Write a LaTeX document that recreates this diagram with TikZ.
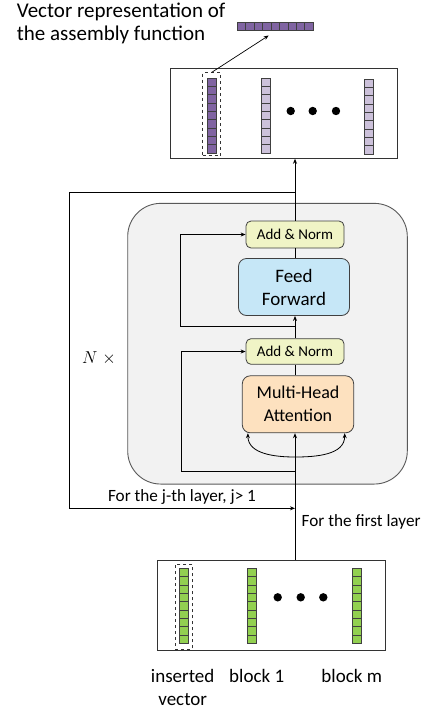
\documentclass[tikz,border=0pt]{standalone}
\usepackage{fontspec}
\setmainfont{Carlito}
\usetikzlibrary{arrows.meta}

\definecolor{darkpurple}{HTML}{8064A2}
\definecolor{lightpurple}{HTML}{CCC1DA}
\definecolor{cellgreen}{HTML}{92D050}
\definecolor{normfill}{HTML}{F0F4C6}
\definecolor{fffill}{HTML}{C6E7F7}
\definecolor{mhafill}{HTML}{FDE1BF}
\definecolor{layerfill}{HTML}{F2F2F2}
\definecolor{edge}{HTML}{404040}

\tikzset{
  arr/.style={-{Stealth[length=5pt,width=4pt]}},
  cell/.style={draw=edge,line width=0.7pt},
  frame/.style={draw=black!80,line width=0.9pt,inner sep=0pt},
  subbox/.style={draw=edge,line width=0.8pt,rounded corners=5pt,align=center,inner sep=0pt},
  addnorm/.style={subbox,fill=normfill,minimum width=98pt,minimum height=27pt,font=\fontsize{15}{18}\selectfont},
  bigbox/.style={subbox,minimum width=111pt,minimum height=57pt,rounded corners=8pt,font=\fontsize{19}{23}\selectfont},
  selbox/.style={draw=black!80,dashed,line width=0.7pt,inner sep=0pt},
  lbl/.style={font=\fontsize{19}{23}\selectfont,inner sep=0pt},
  small/.style={font=\fontsize{17.2}{20}\selectfont,inner sep=0pt}
}

% one vertical vector of 9 cells: x left, y top, colour
\newcommand{\vcol}[3]{%
  \foreach \k in {0,...,8}
    \draw[cell,fill=#3] (#1,{#2+\k*8.33}) rectangle ++(8.6,8.33);
}
% one horizontal vector of 9 cells
\newcommand{\vrow}[3]{%
  \foreach \k in {0,...,8}
    \draw[cell,fill=#3] ({#1+\k*8.44},#2) rectangle ++(8.44,8.7);
}

\begin{document}
\begin{tikzpicture}[x=1pt,y=-1pt]
  \useasboundingbox (0,0) rectangle (424,713);

  % title and output vector
  \node[lbl,font=\fontsize{21}{23}\selectfont,anchor=west,align=left] (title) at (16.7,23.5) {Vector representation of\\the assembly function};
  \node[inner sep=0pt,minimum width=76pt,minimum height=8.7pt] (hvec) at (275.3,26.35) {};
  \vrow{237.3}{22}{darkpurple}

  % output box
  \node[frame,minimum width=226.6pt,minimum height=90pt] (outbox) at (284,113.3) {};
  \node[selbox,minimum width=18pt,minimum height=83pt] (sel) at (211.7,114.2) {};
  \vcol{207.3}{78}{darkpurple}
  \vcol{261.3}{78}{lightpurple}
  \vcol{364.7}{79}{lightpurple}
  \foreach \x in {290.7,312.7,336} \fill (\x,111) circle (4.2);
  \draw[arr,line width=0.7pt] (sel.north) -- ([xshift=-6.6pt,yshift=-4.6pt]hvec.south);

  % encoder layer
  \node[draw=black!65,fill=layerfill,line width=0.9pt,rounded corners=33pt,
        minimum width=279.6pt,minimum height=280.7pt] (layer) at (267.5,343.7) {};
  \node[addnorm] (addtop) at (295,234.5) {Add \& Norm};
  \node[bigbox,fill=fffill] (ff) at (294,287) {Feed\\Forward};
  \node[addnorm,minimum height=25.6pt] (addbot) at (295,351.5) {Add \& Norm};
  \node[bigbox,fill=mhafill,minimum width=111.4pt,font=\fontsize{18}{23}\selectfont] (mha) at (298,404.3) {Multi-Head\\Attention};

  % input box
  \node[frame,minimum width=227.3pt,minimum height=89.3pt] (inbox) at (271.3,605.3) {};
  \node[selbox,minimum width=17.3pt,minimum height=84.7pt] (ins) at (183.65,606.65) {};
  \vcol{179.3}{568.3}{cellgreen}
  \vcol{247.3}{568.3}{cellgreen}
  \vcol{352.7}{568.3}{cellgreen}
  \foreach \x in {277.7,300.7,323.3} \fill (\x,597.3) circle (4.2);

  % main path
  \coordinate (split) at (295,457);
  \coordinate (rt) at (180.7,326.7);
  \coordinate (rb) at (181.7,471);
  \coordinate (lt) at (69,192.7);
  \coordinate (lb) at (69,508.3);
  \draw[line width=0.8pt] (inbox.north -| split) -- (split);
  \draw[arr,line width=0.8pt] (split) -- (split |- mha.south);
  \draw[arr,line width=0.8pt] (split) to[out=180,in=-90] ([xshift=6pt]mha.south west);
  \draw[arr,line width=0.8pt] (split) to[out=0,in=-90] ([xshift=-9.4pt]mha.south east);
  \draw[line width=0.8pt] (split |- mha.north) -- (split |- addbot.south);
  \draw[arr,line width=0.8pt] (split |- addbot.north) -- (split |- ff.south);
  \draw[line width=0.8pt] (split |- ff.north) -- (split |- addtop.south);
  \draw[arr,line width=0.8pt] (split |- addtop.north) -- (split |- outbox.south);

  % residual connections
  \draw[arr,line width=0.8pt] (split |- rb) -- (rb) |- (addbot.west);
  \draw[arr,line width=0.8pt] (split |- rt) -- (rt) |- (addtop.west);

  % loop back for later layers
  \draw[line width=0.8pt] (split |- lt) -- (lt) -- (lb);
  \draw[arr,line width=0.8pt] (lb) -- node[small,above=3pt] (jth) {For the j-th layer, j> 1} (split |- lb);
  \node[small,anchor=west] (first) at (301.5,522.3) {For the first layer};
  \node[font=\fontsize{17}{20}\selectfont] (nx) at (99,358) {$N\hspace{5pt}\times$};

  % block labels
  \node[lbl,align=center] (inslbl) at (182.7,687.7) {inserted\\vector};
  \node[lbl] (b1) at (256.7,676) {block 1};
  \node[lbl] (bm) at (351.7,676) {block m};
\end{tikzpicture}
\end{document}
